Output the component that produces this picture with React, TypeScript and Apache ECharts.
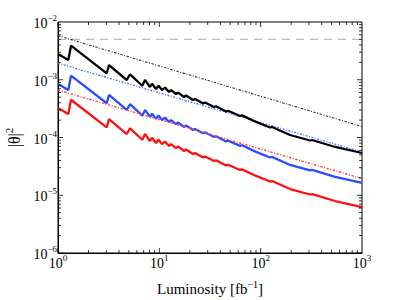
import React, { useEffect, useRef } from "react";
import * as echarts from "echarts";

// Luminosity values (fb^-1) at which the sawtooth limit curves were read
const luminosity = [
  1.0, 1.264, 1.344, 3.025, 3.187, 4.767, 5.137, 6.795, 7.225, 8.094, 8.47, 9.28,
  9.82, 10.63, 11.39, 12.47, 13.05, 14.62, 15.3, 17.53, 18.35, 21.51, 22.51, 27.01,
  28.26, 34.67, 36.28, 45.54, 47.66, 62.6, 65.5, 90.1, 123.8, 129.6, 195.1, 307.4,
  321.7, 542.7, 1000,
];
const blackSolid = [
  2.792e-3, 2.198e-3, 3.886e-3, 1.293e-3, 1.8e-3, 9.9e-4, 1.243e-3, 7.88e-4, 9.9e-4,
  7.49e-4, 8.5e-4, 6.92e-4, 7.9e-4, 6.65e-4, 7.3e-4, 6.14e-4, 6.6e-4, 5.66e-4,
  6.0e-4, 5.03e-4, 5.35e-4, 4.46e-4, 4.65e-4, 3.88e-4, 4.05e-4, 3.37e-4, 3.48e-4,
  2.82e-4, 2.9e-4, 2.36e-4, 2.42e-4, 1.86e-4, 1.49e-4, 1.52e-4, 1.105e-4, 8.87e-5,
  9.05e-5, 6.85e-5, 5.39e-5,
];
const blueSolid = [
  8.46e-4, 6.66e-4, 1.177e-3, 3.92e-4, 5.45e-4, 3.0e-4, 3.77e-4, 2.39e-4, 3.0e-4,
  2.27e-4, 2.58e-4, 2.1e-4, 2.4e-4, 2.01e-4, 2.21e-4, 1.86e-4, 2.0e-4, 1.71e-4,
  1.82e-4, 1.52e-4, 1.62e-4, 1.35e-4, 1.41e-4, 1.18e-4, 1.23e-4, 1.02e-4, 1.05e-4,
  8.54e-5, 8.8e-5, 7.15e-5, 7.35e-5, 5.64e-5, 4.51e-5, 4.61e-5, 3.35e-5, 2.69e-5,
  2.74e-5, 2.08e-5, 1.63e-5,
];
const redSolid = [
  3.24e-4, 2.55e-4, 4.51e-4, 1.5e-4, 2.09e-4, 1.148e-4, 1.442e-4, 9.14e-5, 1.148e-4,
  8.69e-5, 9.9e-5, 8.03e-5, 9.2e-5, 7.71e-5, 8.5e-5, 7.12e-5, 7.7e-5, 6.57e-5,
  7.0e-5, 5.83e-5, 6.2e-5, 5.17e-5, 5.4e-5, 4.5e-5, 4.7e-5, 3.91e-5, 4.04e-5,
  3.27e-5, 3.37e-5, 2.74e-5, 2.81e-5, 2.16e-5, 1.73e-5, 1.76e-5, 1.28e-5, 1.03e-5,
  1.05e-5, 7.95e-6, 6.25e-6,
];

// Straight (power-law) reference lines: values at the two ends
const lineEnds = [1, 1000];
const blackDashDot = [5.8e-3, 1.55e-4];
const blueDotted = [1.93e-3, 5.6e-5];
const redDashDot = [6.6e-4, 1.95e-5];
const grayDashed = [5e-3, 5e-3];

const xRange = [1, 1000];
const yRange = [1e-6, 1e-2];

const pairs = (xs: number[], ys: number[]) => xs.map((x, i) => [x, ys[i]]);

const SERIF = "Liberation Serif";

const expLabel = (v: number) => {
  const e = Math.round(Math.log10(v));
  const s = e < 0 ? "\u2212" + Math.abs(e) : String(e);
  return `{b|10}{s|${s}}`;
};

const richLabel = {
  b: { fontSize: 14, fontFamily: SERIF, color: "#000", verticalAlign: "bottom" },
  s: { fontSize: 9, fontFamily: SERIF, color: "#000", padding: [0, 0, 8, 0], verticalAlign: "bottom" },
};

export default function App() {
  const ref = useRef<HTMLDivElement>(null);
  useEffect(() => {
    if (!ref.current) return;
    const chart = echarts.init(ref.current, null, { renderer: "svg" });
    const option: any = {
      animation: false,
      backgroundColor: "#fff",
      textStyle: { fontFamily: SERIF },
      grid: {
        left: 58,
        right: 37,
        top: 22,
        bottom: 47,
        containLabel: false,
        outerBoundsMode: "none",
        show: true,
        borderColor: "#000",
        borderWidth: 1,
        backgroundColor: "transparent",
      },
      xAxis: {
        type: "log",
        logBase: 10,
        min: xRange[0],
        max: xRange[1],
        name: "{t|Luminosity [fb}{s|\u22121}{t|]}",
        nameLocation: "middle",
        nameGap: 26,
        nameTextStyle: {
          fontFamily: SERIF,
          rich: {
            t: { fontSize: 15, fontFamily: SERIF, color: "#000", verticalAlign: "bottom" },
            s: { fontSize: 10, fontFamily: SERIF, color: "#000", padding: [0, 0, 7, 0], verticalAlign: "bottom" },
          },
        },
        axisLine: { show: true, lineStyle: { color: "#000", width: 1 } },
        axisTick: { show: false },
        splitLine: { show: false },
        minorTick: { show: false },
        axisLabel: { formatter: expLabel, rich: richLabel, margin: 0, fontFamily: SERIF, fontSize: 14 },
      },
      yAxis: {
        type: "log",
        logBase: 10,
        min: yRange[0],
        max: yRange[1],
        name: "{t||\u03b8|}{s|2}",
        nameLocation: "middle",
        nameGap: 36,
        nameRotate: 90,
        nameTextStyle: {
          fontFamily: SERIF,
          rich: {
            t: { fontSize: 16, fontFamily: SERIF, color: "#000", verticalAlign: "bottom" },
            s: { fontSize: 11, fontFamily: SERIF, color: "#000", padding: [0, 0, 8, 0], verticalAlign: "bottom" },
          },
        },
        axisLine: { show: true, lineStyle: { color: "#000", width: 1 } },
        axisTick: { show: false },
        splitLine: { show: false },
        minorTick: { show: false },
        axisLabel: { formatter: expLabel, rich: richLabel, margin: 1, fontFamily: SERIF, fontSize: 14 },
      },
      series: [
        {
          type: "line",
          data: pairs(lineEnds, grayDashed),
          showSymbol: false,
          lineStyle: { color: "#bdbdbd", width: 1.3, type: [8, 6] },
          z: 1,
        },
        {
          type: "line",
          data: pairs(lineEnds, blackDashDot),
          showSymbol: false,
          lineStyle: { color: "#333", width: 1.1, type: [2.5, 1.5, 1, 1.5] },
          z: 2,
        },
        {
          type: "line",
          data: pairs(lineEnds, blueDotted),
          showSymbol: false,
          lineStyle: { color: "#5577ff", width: 1.4, type: [2, 1.5, 1, 1.5] },
          z: 2,
        },
        {
          type: "line",
          data: pairs(lineEnds, redDashDot),
          showSymbol: false,
          lineStyle: { color: "#ff4a4a", width: 1.4, type: [2.5, 1.5, 1, 1.5] },
          z: 4,
        },
        {
          type: "line",
          data: pairs(luminosity, blackSolid),
          showSymbol: false,
          lineStyle: { color: "#000", width: 2.3 },
          z: 3,
        },
        {
          type: "line",
          data: pairs(luminosity, blueSolid),
          showSymbol: false,
          lineStyle: { color: "#2a4cff", width: 2.3 },
          z: 3,
        },
        {
          type: "line",
          data: pairs(luminosity, redSolid),
          showSymbol: false,
          lineStyle: { color: "#ff1010", width: 2.3 },
          z: 3,
        },
        {
          type: "custom",
          data: [[xRange[0], yRange[0]]],
          clip: false,
          silent: true,
          z: 10,
          renderItem: (_params: any, api: any) => {
            const children: any[] = [];
            const add = (x1: number, y1: number, x2: number, y2: number) =>
              children.push({
                type: "line",
                shape: { x1, y1, x2, y2 },
                style: { stroke: "#000", lineWidth: 0.8 },
              });
            const xDec = Math.round(Math.log10(xRange[1] / xRange[0]));
            for (let k = 0; k < xDec; k++) {
              for (let m = 1; m <= 9; m++) {
                const v = xRange[0] * m * Math.pow(10, k);
                const b = api.coord([v, yRange[0]]);
                const t = api.coord([v, yRange[1]]);
                const len = m === 1 ? 5 : 3;
                add(b[0], b[1], b[0], b[1] - len);
                add(t[0], t[1], t[0], t[1] + len);
              }
            }
            const yDec = Math.round(Math.log10(yRange[1] / yRange[0]));
            for (let k = 0; k < yDec; k++) {
              for (let m = 1; m <= 9; m++) {
                const v = yRange[0] * m * Math.pow(10, k);
                const l = api.coord([xRange[0], v]);
                const r = api.coord([xRange[1], v]);
                const len = m === 1 ? 5 : 3;
                add(l[0], l[1], l[0] + len, l[1]);
                add(r[0], r[1], r[0] - len, r[1]);
              }
            }
            return { type: "group", children };
          },
        },
      ],
    };
    chart.setOption(option);
    return () => chart.dispose();
  }, []);
  return (
    <div
      ref={ref}
      style={{ position: "fixed", left: 0, top: 0, width: 399, height: 300, background: "#fff" }}
    />
  );
}
